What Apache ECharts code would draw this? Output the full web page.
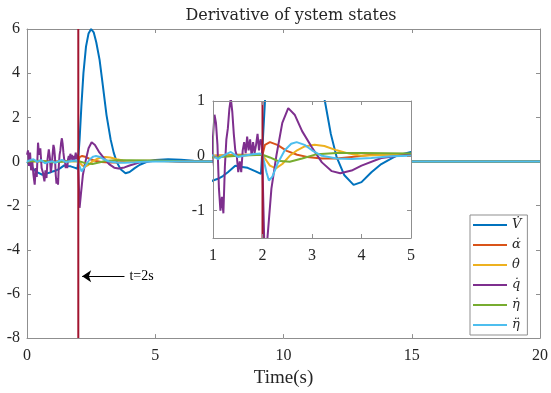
<!DOCTYPE html>
<html>
<head>
<meta charset="utf-8">
<script src="https://cdn.jsdelivr.net/npm/echarts@6/dist/echarts.min.js"></script>
<style>
  html, body { margin: 0; padding: 0; background: #fff; }
  #chart { width: 551px; height: 393px; }
</style>
</head>
<body>
<div id="chart"></div>
<script>
// [t, value] samples
const vDot = [[0,0],[0.15,-0.2],[0.3,-0.4],[0.45,-0.52],[0.6,-0.6],[0.75,-0.55],[0.9,-0.5],[1.0,-0.45],[1.1,-0.42],[1.2,-0.37],[1.3,-0.3],[1.45,-0.18],[1.55,-0.2],[1.7,-0.22],[1.85,-0.28],[1.97,-0.33],[2.0,-0.3],[2.05,1.0],[2.12,2.5],[2.2,4.0],[2.3,5.2],[2.4,5.8],[2.5,6.0],[2.6,5.85],[2.7,5.4],[2.83,4.6],[2.95,3.5],[3.1,2.1],[3.26,1.0],[3.38,0.4],[3.5,-0.03],[3.65,-0.35],[3.84,-0.53],[4.0,-0.48],[4.2,-0.3],[4.4,-0.15],[4.7,0.0],[5.0,0.07],[5.5,0.1],[6.0,0.08],[6.5,0.03],[7.0,0],[20,0]];
const alphaDot = [[0,0],[0.5,0.02],[1,0.0],[1.5,0.02],[2.0,0.02],[2.05,0.2],[2.15,0.25],[2.3,0.2],[2.49,0.09],[2.7,0.02],[2.9,-0.02],[3.2,-0.05],[3.5,-0.05],[3.8,-0.02],[4.2,0.02],[5,0.03],[6,0],[20,0]];
const thetaDot = [[0,0],[1,0.0],[2.0,0.02],[2.05,-0.05],[2.15,-0.18],[2.27,-0.23],[2.4,-0.15],[2.55,0.0],[2.7,0.1],[2.85,0.17],[3.05,0.2],[3.25,0.18],[3.5,0.1],[3.75,0.04],[4.0,0.0],[4.5,0.02],[5,0.02],[6,0],[20,0]];
const qDot = [[0,0.3],[0.04,0.5],[0.08,-0.2],[0.12,0.4],[0.16,-0.4],[0.2,0.1],[0.25,-0.6],[0.3,-1.05],[0.34,-0.3],[0.38,-0.7],[0.43,0.85],[0.47,0.3],[0.52,0.6],[0.57,-0.3],[0.62,-0.5],[0.68,-0.9],[0.72,-0.4],[0.76,-0.75],[0.8,0.1],[0.85,0.55],[0.89,0.2],[0.93,-0.5],[0.97,-0.1],[1.0,0.35],[1.03,0.75],[1.06,0.6],[1.09,0.2],[1.12,-0.6],[1.15,-1.0],[1.18,-0.75],[1.21,-1.05],[1.24,-0.2],[1.27,0.3],[1.3,0.5],[1.33,0.85],[1.36,1.05],[1.39,0.8],[1.42,0.4],[1.45,0.1],[1.48,0.0],[1.51,-0.3],[1.54,-0.1],[1.57,-0.3],[1.6,0.1],[1.63,0.25],[1.66,0.05],[1.69,0.35],[1.72,0.1],[1.75,0.3],[1.78,0.0],[1.81,0.25],[1.84,0.05],[1.87,0.2],[1.9,0.4],[1.93,0.1],[1.96,0.3],[1.99,0.2],[2.02,-1.0],[2.05,-2.1],[2.1,-1.5],[2.18,-0.6],[2.28,0.0],[2.4,0.6],[2.52,0.87],[2.65,0.75],[2.8,0.45],[3.0,0.15],[3.2,-0.12],[3.4,-0.28],[3.57,-0.32],[3.8,-0.27],[4.0,-0.18],[4.4,-0.04],[5.0,0.03],[5.5,0.02],[6,0],[20,0]];
const etaDot = [[0,0.0],[0.5,0.03],[1,-0.03],[1.5,0.0],[2,0.02],[2.15,-0.03],[2.3,-0.09],[2.55,-0.11],[2.8,-0.05],[3.1,0.03],[3.5,0.05],[4,0.05],[5,0.04],[6,0.01],[7,0],[20,0]];
const etaDDot = [[0,0],[0.1,0.05],[0.25,0.1],[0.4,-0.02],[0.55,0.06],[0.7,-0.08],[0.85,-0.02],[1.0,0.01],[1.1,-0.06],[1.2,0.0],[1.36,0.07],[1.5,-0.02],[1.62,0.0],[1.8,0.03],[1.95,0.04],[2.0,0.02],[2.08,-0.3],[2.13,-0.45],[2.2,-0.38],[2.3,-0.15],[2.45,0.1],[2.58,0.22],[2.69,0.25],[2.85,0.2],[3.0,0.1],[3.2,0.0],[3.5,-0.05],[3.8,-0.06],[4.2,-0.04],[4.6,-0.01],[5,0],[20,0]];

const names = ['V\u0307', '\u03b1\u0307', '\u03b8\u0307', 'q\u0307', '\u03b7\u0307', '\u03b7\u0308'];
const colors = ['#0072BD', '#D95319', '#EDB120', '#7E2F8E', '#77AC30', '#4DBEEE'];
const seriesData = [vDot, alphaDot, thetaDot, qDot, etaDot, etaDDot];

const eventTime = 2;
const arrowFrom = [3.8, -5.2];
const arrowTo = [2.15, -5.2];

const font = 'Liberation Serif';
const axisColor = '#8f8f8f';
const textColor = '#262626';

function boxAxis(gridIndex, position, min, max, interval, labels, extra) {
  return Object.assign({
    type: 'value', gridIndex, position, min, max, interval,
    axisLine: { show: true, onZero: false, lineStyle: { color: axisColor, width: 1 } },
    axisTick: { show: true, inside: true, length: 4, lineStyle: { color: axisColor } },
    axisLabel: { show: labels, color: textColor, fontFamily: font, fontSize: 16, margin: 8 },
    splitLine: { show: false }
  }, extra || {});
}

function line(i, axis, z) {
  return {
    type: 'line', name: names[i], data: seriesData[i],
    xAxisIndex: axis, yAxisIndex: axis, z,
    symbol: 'none', clip: true, silent: true,
    lineStyle: { color: colors[i], width: 2 },
    itemStyle: { color: colors[i] }
  };
}

const insetTicks = [-1, 0, 1];

const series = [];
for (let i = 0; i < names.length; i++) series.push(line(i, 0, 2));
series.push({
  type: 'line', data: [[eventTime, -8], [eventTime, 6]], xAxisIndex: 0, yAxisIndex: 0, z: 3,
  symbol: 'none', silent: true, lineStyle: { color: '#A2142F', width: 2 },
  markLine: {
    silent: true, symbol: ['none', 'arrow'], symbolSize: 9,
    label: {
      show: true, position: 'start', distance: 5, formatter: 't=2s',
      color: '#000', fontFamily: font, fontSize: 14
    },
    lineStyle: { color: '#000', width: 1, type: 'solid' },
    data: [[{ coord: arrowFrom }, { coord: arrowTo }]]
  }
});
for (let i = 0; i < names.length; i++) series.push(line(i, 2, 15));
series.push({
  type: 'line', data: [[eventTime, -1.5], [eventTime, 1]], xAxisIndex: 2, yAxisIndex: 2, z: 16,
  symbol: 'none', silent: true, lineStyle: { color: '#A2142F', width: 2 }
});

const chart = echarts.init(document.getElementById('chart'), null, { renderer: 'canvas' });
chart.setOption({
  animation: false,
  backgroundColor: '#fff',
  title: {
    text: 'Derivative of ystem states', left: 286, top: 3, textAlign: 'center',
    textStyle: { fontFamily: 'DejaVu Serif', fontWeight: 'normal', fontSize: 16, color: textColor }
  },
  legend: {
    orient: 'vertical', left: 470, top: 215, data: names,
    icon: 'rect', itemWidth: 34, itemHeight: 2, itemGap: 6, itemTextGap: 4,
    padding: [3, 6, 3, 3], backgroundColor: '#fff', borderColor: axisColor, borderWidth: 1,
    textStyle: { fontFamily: 'DejaVu Serif', fontStyle: 'italic', fontSize: 13, lineHeight: 14, color: textColor }
  },
  grid: [
    { left: 27, right: 10, top: 29, bottom: 52 },
    { left: 213, right: 140, top: 101, bottom: 155, show: true, backgroundColor: '#fff', borderWidth: 0, z: 10 }
  ],
  xAxis: [
    boxAxis(0, 'bottom', 0, 20, 5, true, {
      name: 'Time(s)', nameLocation: 'middle', nameGap: 29,
      nameTextStyle: { fontFamily: font, fontSize: 19, color: textColor },
      axisLabel: { show: true, color: textColor, fontFamily: font, fontSize: 16, margin: 10 }
    }),
    boxAxis(0, 'top', 0, 20, 5, false),
    boxAxis(1, 'bottom', 1, 5, 1, true, { z: 20, axisLabel: { show: true, color: textColor, fontFamily: font, fontSize: 16, margin: 10 } }),
    boxAxis(1, 'top', 1, 5, 1, false, { z: 20 })
  ],
  yAxis: [
    boxAxis(0, 'left', -8, 6, 2, true, { axisLabel: { show: true, color: textColor, fontFamily: font, fontSize: 16, margin: 7 } }),
    boxAxis(0, 'right', -8, 6, 2, false),
    {
      type: 'value', gridIndex: 1, position: 'left', min: -1.5, max: 1, z: 20,
      axisLine: { show: true, onZero: false, lineStyle: { color: axisColor, width: 1 } },
      axisTick: { show: true, inside: true, length: 4, customValues: insetTicks, lineStyle: { color: axisColor } },
      axisLabel: { show: true, customValues: insetTicks, color: textColor, fontFamily: font, fontSize: 16, margin: 8 },
      splitLine: { show: false }
    },
    {
      type: 'value', gridIndex: 1, position: 'right', min: -1.5, max: 1, z: 20,
      axisLine: { show: true, onZero: false, lineStyle: { color: axisColor, width: 1 } },
      axisTick: { show: true, inside: true, length: 4, customValues: insetTicks, lineStyle: { color: axisColor } },
      axisLabel: { show: false },
      splitLine: { show: false }
    }
  ],
  series
});
</script>
</body>
</html>
